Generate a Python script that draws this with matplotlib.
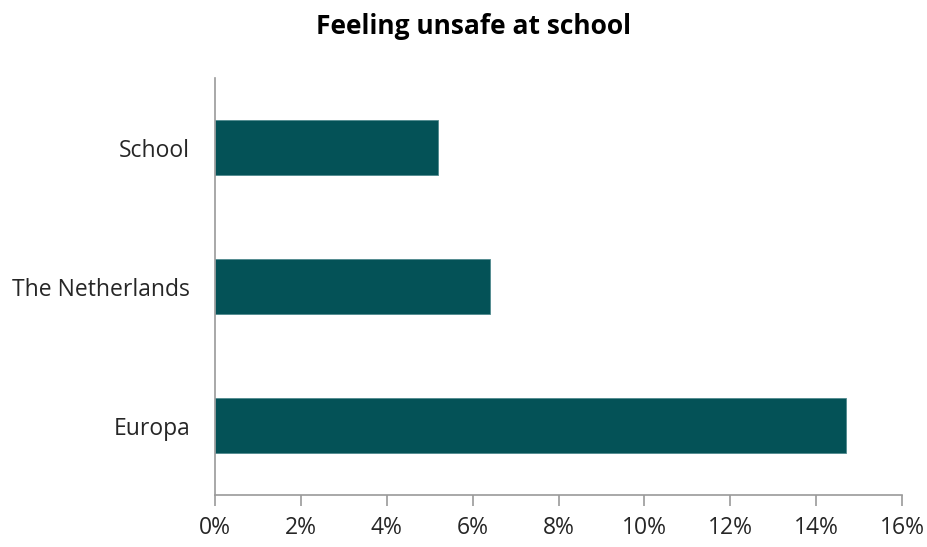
import matplotlib.pyplot as plt
from matplotlib.ticker import FuncFormatter

# Data
categories = ['Europa', 'The Netherlands', 'School']
values = [14.7, 6.4, 5.2]
xticks = [0, 2, 4, 6, 8, 10, 12, 14, 16]

plt.rcParams['font.family'] = ['Open Sans', 'DejaVu Sans']

fig = plt.figure(figsize=(9.28, 5.47), dpi=100)
ax = fig.add_axes([0.2317, 0.095, 0.972 - 0.2317, 0.857 - 0.095])

ax.barh(categories, values, height=0.4, color='#045257',
        edgecolor='#4f8a8e', linewidth=0.6)

ax.set_xlim(0, 16)
ax.set_ylim(-0.5, 2.5)
ax.set_xticks(xticks)
ax.xaxis.set_major_formatter(FuncFormatter(lambda v, p: f'{v:.0f}%'))

for side in ['top', 'right']:
    ax.spines[side].set_visible(False)
for side in ['left', 'bottom']:
    ax.spines[side].set_color('#9a9a9a')
    ax.spines[side].set_linewidth(1.2)

ax.tick_params(axis='x', direction='out', length=8, width=1.2, color='#9a9a9a',
               labelsize=16.5, labelcolor='#262626', pad=7)
ax.tick_params(axis='y', length=0, labelsize=16.5, labelcolor='#262626', pad=18)

fig.text(0.5 * (316 + 631) / 928, 1 - 27 / 547, 'Feeling unsafe at school',
         ha='center', va='center', fontsize=19, fontweight='bold', color='black')

fig.savefig('out.png', dpi=100)
